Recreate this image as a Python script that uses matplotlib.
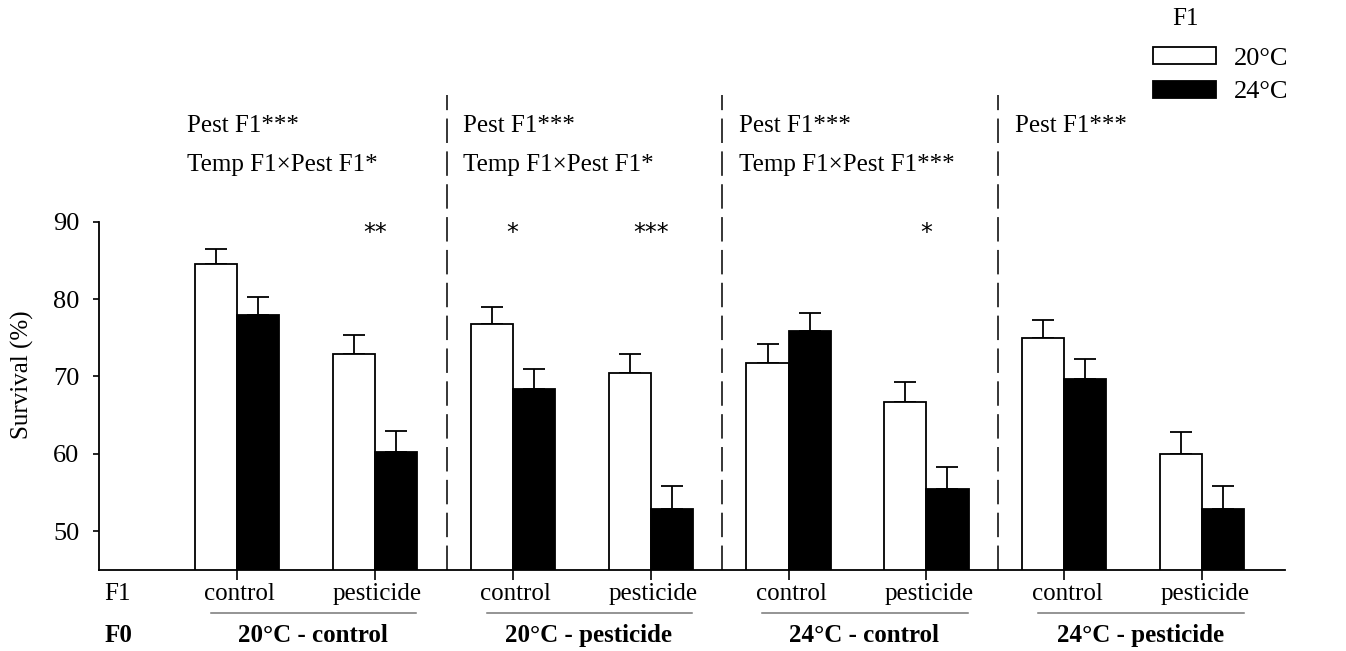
import matplotlib
matplotlib.use('Agg')
import matplotlib.pyplot as plt
from matplotlib.patches import Patch

plt.rcParams['font.family'] = ['Liberation Serif', 'DejaVu Serif']

# F0 groups, F1 treatments
f0_groups = ['20°C - control', '20°C - pesticide', '24°C - control', '24°C - pesticide']
f1_treat = ['control', 'pesticide']

# survival means (%) and upper error, order: group x treatment
mean_20 = [84.5, 72.9, 76.8, 70.5, 71.8, 66.7, 75.0, 60.0]
err_20 = [1.9, 2.5, 2.2, 2.4, 2.4, 2.6, 2.3, 2.8]
mean_24 = [78.0, 60.3, 68.4, 52.9, 75.9, 55.5, 69.7, 52.9]
err_24 = [2.2, 2.7, 2.6, 2.9, 2.3, 2.8, 2.5, 2.9]

# significance of F1 temperature within each treatment
pair_sig = ['', '**', '*', '***', '', '*', '', '']

# stats text per F0 group
stats_lines = [
    ['Pest F1***', 'Temp F1×Pest F1*'],
    ['Pest F1***', 'Temp F1×Pest F1*'],
    ['Pest F1***', 'Temp F1×Pest F1***'],
    ['Pest F1***'],
]

fig = plt.figure(figsize=(13.46, 6.51), dpi=100)
ax = fig.add_axes([99 / 1346, 81 / 651, 1186 / 1346, 480 / 651])

x = list(range(len(mean_20)))
w = 0.305
ax.bar(x, mean_20, width=-w, align='edge', color='white', edgecolor='black',
       linewidth=1.3, zorder=2)
ax.bar(x, mean_24, width=w, align='edge', color='black', edgecolor='black',
       linewidth=1.3, zorder=2)
ax.errorbar([i - w / 2 for i in x], mean_20, yerr=[[0] * len(x), err_20],
            fmt='none', ecolor='black', elinewidth=1.3, capsize=8, capthick=1.3, zorder=1)
ax.errorbar([i + w / 2 for i in x], mean_24, yerr=[[0] * len(x), err_24],
            fmt='none', ecolor='black', elinewidth=1.3, capsize=8, capthick=1.3, zorder=1)

ax.set_xlim(-1, 7.6)
ax.set_ylim(45, 107)
ax.set_yticks([50, 60, 70, 80, 90])
ax.tick_params(axis='y', labelsize=19, length=4, width=1.2, pad=10)
ax.set_xticks(x)
ax.set_xticklabels([])
ax.tick_params(axis='x', length=7, width=1.2)
for s in ['top', 'right']:
    ax.spines[s].set_visible(False)
ax.spines['left'].set_bounds(45, 90)
ax.spines['left'].set_linewidth(1.3)
ax.spines['bottom'].set_linewidth(1.3)

ax.set_ylabel('Survival (%)', fontsize=18)
ax.yaxis.set_label_coords(-0.0545, 0.406)

# dashed separators between F0 groups
for g in range(1, len(f0_groups)):
    ax.plot([2 * g - 0.48, 2 * g - 0.48], [45, 106.3], color='black', lw=1.1,
            ls=(0, (16, 5.5)), zorder=0, clip_on=False)

trans = ax.get_xaxis_transform()
ax.text(-0.96, -0.05, 'F1', transform=trans, fontsize=18, ha='left', va='center')
ax.text(-0.96, -0.136, 'F0', transform=trans, fontsize=18, ha='left', va='center',
        fontweight='bold')
for i in x:
    ax.text(i + 0.02, -0.05, f1_treat[i % 2], transform=trans, fontsize=18,
            ha='center', va='center')
for g, name in enumerate(f0_groups):
    ax.plot([2 * g - 0.19, 2 * g + 1.3], [-0.09, -0.09], transform=trans,
            color='#777777', lw=1.1, clip_on=False)
    ax.text(2 * g + 0.55, -0.136, name, transform=trans, fontsize=18,
            ha='center', va='center', fontweight='bold')
    for j, line in enumerate(stats_lines[g]):
        ax.text(2 * g - 0.36, 102.4 - 5.1 * j, line, fontsize=18,
                ha='left', va='center')

for i, s in enumerate(pair_sig):
    if s:
        ax.text(i, 88.5, s, fontsize=17, ha='center', va='center',
                family='DejaVu Sans')

# legend
handles = [Patch(facecolor='white', edgecolor='black', linewidth=1.3, label='20°C'),
           Patch(facecolor='black', edgecolor='black', linewidth=1.3, label='24°C')]
fig.legend(handles=handles, loc='upper left', bbox_to_anchor=(1153 / 1346, 1 - 47 / 651),
           frameon=False, fontsize=19, handlelength=2.4, handleheight=0.6,
           handletextpad=0.65, labelspacing=0.42, borderpad=0, borderaxespad=0)
fig.text(1185 / 1346, 1 - 19 / 651, 'F1', fontsize=18, ha='center', va='center')

fig.savefig('out.png', dpi=100)
